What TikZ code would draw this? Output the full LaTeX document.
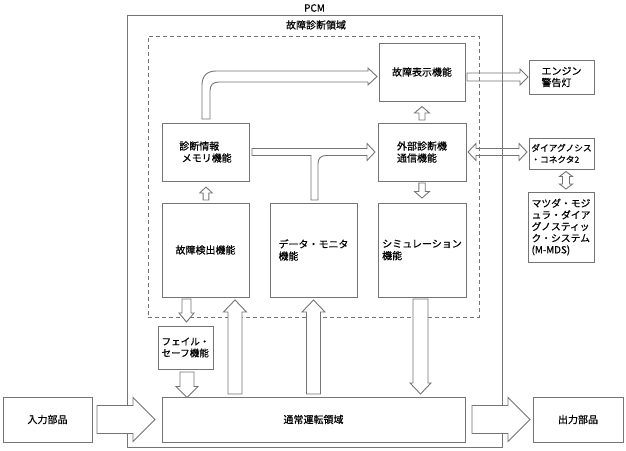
\documentclass[tikz,border=0pt]{standalone}
\usepackage{fontspec}
\setmainfont{Noto Sans CJK JP}[FakeBold=0.6]
\usetikzlibrary{calc}
\definecolor{lc}{HTML}{747474}
\tikzset{
  box/.style={draw=lc, line width=0.9pt, fill=white, inner sep=0pt, outer sep=0pt, anchor=north west, align=center},
  lbox/.style={box, align=left},
  dbox/.style={draw=lc, line width=0.9pt, dash pattern=on 4pt off 3pt, inner sep=0pt, outer sep=0pt, anchor=north west},
  lbl/.style={inner sep=0pt},
  arr/.style={draw=lc, fill=white, line width=0.9pt, line join=miter},
  arrnf/.style={draw=lc, line width=0.9pt, line join=miter},
}
% block arrow: #1 start, #2 tip, #3 shaft half width, #4 head half width, #5 head length, #6 style
\newcommand\blockarrow[6]{%
  \path[#6] ($(#1)!#3!90:(#2)$) -- ($(#2)!#5!(#1)!#3!-90:(#1)$) -- ($(#2)!#5!(#1)!#4!-90:(#1)$) -- (#2) -- ($(#2)!#5!(#1)!#4!90:(#1)$) -- ($(#2)!#5!(#1)!#3!90:(#1)$) -- ($(#1)!#3!-90:(#2)$) -- cycle;}
\newcommand\dblockarrow[6]{%
  \path[#6] ($(#1)!#5!(#2)!#3!90:(#2)$) -- ($(#2)!#5!(#1)!#3!-90:(#1)$) -- ($(#2)!#5!(#1)!#4!-90:(#1)$) -- (#2) -- ($(#2)!#5!(#1)!#4!90:(#1)$) -- ($(#2)!#5!(#1)!#3!90:(#1)$) -- ($(#1)!#5!(#2)!#3!-90:(#2)$) -- ($(#1)!#5!(#2)!#4!-90:(#2)$) -- (#1) -- ($(#1)!#5!(#2)!#4!90:(#2)$) -- cycle;}
\begin{document}
\begin{tikzpicture}[x=1pt, y=-1pt, font=\fontsize{10}{12}\selectfont]
\useasboundingbox (0,0) rectangle (626,450);

% frames
\node[box, fill=none, minimum width=375pt, minimum height=432pt] (pcm) at (127,15) {};
\node[lbl] (pcmlabel) at (314.5,8) {PCM};
\node[dbox, minimum width=331pt, minimum height=281pt] (diag) at (148,36) {};
\node[lbl] (diaglabel) at (316,25) {故障診断領域};

% right column
\node[lbox, minimum width=65pt, minimum height=34pt, font=\fontsize{10}{11.5}\selectfont] (lamp) at (529,60) {エンジン\\警告灯};
\node[box, minimum width=65pt, minimum height=31pt, font=\fontsize{8.7}{11.5}\selectfont, align=left] (conn) at (529,138) {ダイアグノシス\\・コネクタ2};
\node[lbox, minimum width=66pt, minimum height=70pt, font=\fontsize{9.8}{11.6}\selectfont] (mds) at (528,192) {マツダ・モジ\\ュラ・ダイア\\グノスティッ\\ク・システム\\(M-MDS)};

% diagnosis boxes
\node[box, minimum width=86pt, minimum height=58pt] (disp) at (379,43) {故障表示機能};
\node[lbox, minimum width=87pt, minimum height=58pt] (mem) at (162,123) {診断情報\\\hspace{2.5pt}メモリ機能};
\node[lbox, minimum width=88pt, minimum height=58pt] (ext) at (378,123) {外部診断機\\通信機能};
\node[box, minimum width=87pt, minimum height=94pt] (det) at (162,203) {故障検出機能};
\node[lbox, minimum width=87pt, minimum height=94pt] (mon) at (270,203) {データ・モニタ\\機能};
\node[lbox, minimum width=88pt, minimum height=94pt] (sim) at (378,203) {シミュレーション\\機能};
\node[lbox, minimum width=55pt, minimum height=43pt, font=\fontsize{9.6}{11.5}\selectfont] (fs) at (158,326) {フェイル・\\セーフ機能};

% bottom row
\node[box, minimum width=303pt, minimum height=45pt] (norm) at (162,397) {通常運転領域};
\node[box, minimum width=89pt, minimum height=45pt] (inp) at (3,397) {入力部品};
\node[box, minimum width=90pt, minimum height=45pt] (outp) at (533,397) {出力部品};

% connector end points
\coordinate (a1s) at ($(disp.east |- lamp.west)+(2,0)$);
\coordinate (a1e) at ($(lamp.west)+(-1,0)$);
\coordinate (a2s) at ($(ext.east)+(2,0)$);
\coordinate (a2e) at ($(conn.west |- ext.east)+(-2,0)$);
\coordinate (a3s) at ($(conn.south)+(4.5,2.5)$);
\coordinate (a3e) at ($(mds.north)+(5,-3)$);
\coordinate (a4s) at ($(det.north)+(0.5,-3)$);
\coordinate (a4e) at ($(mem.south)+(0.5,6)$);
\coordinate (a5s) at ($(ext.north)+(0,-3)$);
\coordinate (a5e) at ($(disp.south)+(0,5.5)$);
\coordinate (a6s) at ($(ext.south)+(0,2)$);
\coordinate (a6e) at ($(sim.north)+(0,-5)$);
\coordinate (a7s) at ($(fs.north |- det.south)+(1,2)$);
\coordinate (a7e) at ($(fs.north)+(1,-4)$);
\coordinate (a8s) at ($(fs.south)+(1.5,3)$);
\coordinate (a8e) at ($(fs.south |- norm.north)+(1.5,0.5)$);
\coordinate (a9s) at ($(det.south |- norm.north)+(29.5,-3)$);
\coordinate (a9e) at ($(det.south)+(29.5,3)$);
\coordinate (a10s) at ($(mon.south |- norm.north)+(0,-3)$);
\coordinate (a10e) at ($(mon.south)+(0,3)$);
\coordinate (a11s) at ($(sim.south)+(-1.5,2)$);
\coordinate (a11e) at ($(sim.south |- norm.north)+(-1.5,-3)$);
\coordinate (a12s) at ($(inp.east)+(5,0)$);
\coordinate (a12e) at ($(norm.west)+(-7,0)$);
\coordinate (a13s) at ($(norm.east)+(7,0)$);
\coordinate (a13e) at ($(outp.west)+(-3,0)$);

\blockarrow{a1s}{a1e}{4pt}{8pt}{8pt}{arrnf}
\dblockarrow{a2s}{a2e}{3.5pt}{8.5pt}{8pt}{arrnf}
\dblockarrow{a3s}{a3e}{3.5pt}{6.5pt}{5pt}{arr}
\blockarrow{a4s}{a4e}{2.9pt}{6.3pt}{6pt}{arr}
\blockarrow{a5s}{a5e}{3pt}{7.5pt}{6.5pt}{arr}
\blockarrow{a6s}{a6e}{3.2pt}{7.5pt}{6.5pt}{arr}
\blockarrow{a7s}{a7e}{4.5pt}{7.5pt}{9pt}{arr}
\blockarrow{a8s}{a8e}{7pt}{11pt}{11pt}{arr}
\blockarrow{a9s}{a9e}{7pt}{11.5pt}{12pt}{arr}
\blockarrow{a10s}{a10e}{7pt}{11.5pt}{12pt}{arr}
\blockarrow{a11s}{a11e}{7.5pt}{10.5pt}{11pt}{arr}
\blockarrow{a12s}{a12e}{14pt}{22pt}{22pt}{arr}
\blockarrow{a13s}{a13e}{14pt}{22pt}{22pt}{arr}

% bent arrow: memory -> fault display
\path[arr] (202,119) -- (202,85) .. controls (202,76) and (207,71) .. (216,71) -- (368,71) -- (368,68) -- (377,76.5) -- (368,85) -- (368,82) -- (219,82) .. controls (213,82) and (210,85) .. (210,91) -- (210,119) -- cycle;

% T-joined arrow: memory + data monitor -> external diagnosis
\path[arr] (252,148.5) -- (367,148.5) -- (367,143.5) -- (375,152) -- (367,160.5) -- (367,155.5) -- (326,155.5) .. controls (321,155.5) and (318,158.5) .. (318,163.5) -- (318,200) -- (311,200) -- (311,155.5) -- (252,155.5) -- cycle;
\end{tikzpicture}
\end{document}
